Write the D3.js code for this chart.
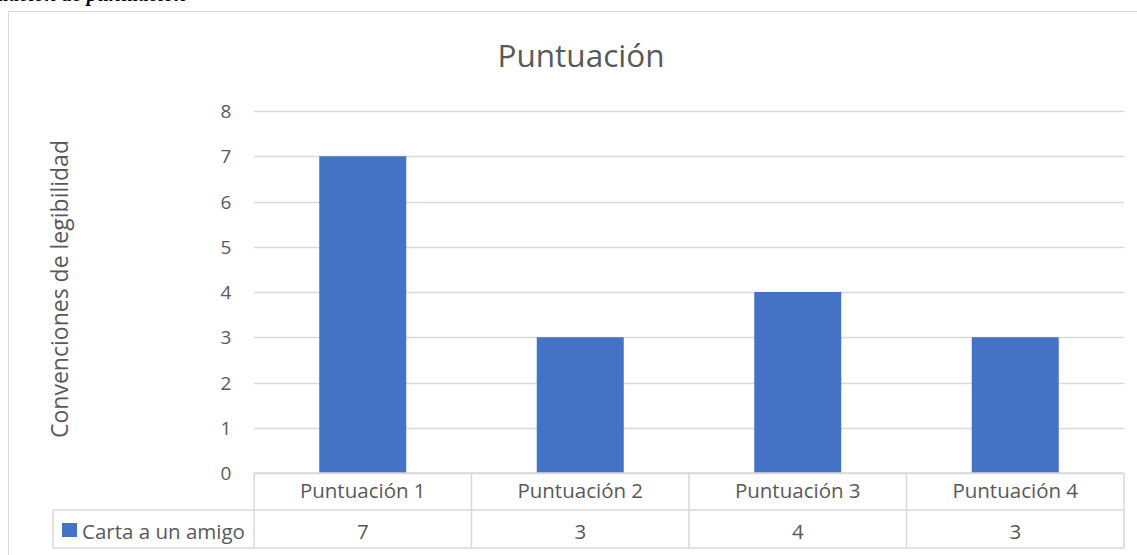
<!DOCTYPE html>
<html><head><meta charset="utf-8">
<script src="https://cdn.jsdelivr.net/npm/d3@7"></script>
<style>body{margin:0;background:#fff}svg{display:block}</style>
</head><body>
<svg id="c" width="1137" height="555"></svg>
<script>
const categories = ["Puntuación 1","Puntuación 2","Puntuación 3","Puntuación 4"];
const seriesName = "Carta a un amigo";
const values = [7,3,4,3];
const yTicks = [0,1,2,3,4,5,6,7,8];
const title = "Puntuación";
const yTitle = "Convenciones de legibilidad";
const caption = "Evaluación de puntuación";

const svg = d3.select("#c");
const font = "'Open Sans', sans-serif";
const txt = "#595959", grid = "#d9d9d9", blue = "#4472C4";

// clipped caption above chart (cut off in the reference)
svg.append("text").attr("x",186).attr("y",1).attr("text-anchor","end")
  .attr("font-family","'Liberation Serif', serif").attr("font-style","italic").attr("font-weight","bold")
  .attr("font-size",21).attr("fill","#000").text(caption);

// chart border
svg.append("rect").attr("x",8.5).attr("y",11.5).attr("width",1140).attr("height",560)
  .attr("fill","none").attr("stroke",grid).attr("stroke-width",1);

const L=254, R=1124, T=111, B=473;
const x = d3.scaleBand().domain(categories).range([L,R]).paddingInner(0).paddingOuter(0);
const y = d3.scaleLinear().domain([0,8]).range([B,T]);

// gridlines
svg.append("g").selectAll("line").data(yTicks).join("line")
  .attr("x1",L).attr("x2",R).attr("y1",d=>Math.round(y(d))+0.5).attr("y2",d=>Math.round(y(d))+0.5)
  .attr("stroke",grid).attr("stroke-width",1.3);

// y tick labels
svg.append("g").selectAll("text").data(yTicks).join("text")
  .attr("x",226).attr("y",d=>y(d)+7).attr("text-anchor","middle")
  .attr("font-family",font).attr("font-size",19).attr("fill",txt).text(d=>d);

// bars
const bw = x.bandwidth()*0.4;
svg.append("g").selectAll("rect").data(values).join("rect")
  .attr("x",(d,i)=>x(categories[i])+x.bandwidth()/2-bw/2).attr("width",bw)
  .attr("y",d=>y(d)).attr("height",d=>y(0)-y(d)).attr("fill",blue);

// title
svg.append("text").attr("x",581).attr("y",67).attr("text-anchor","middle")
  .attr("font-family",font).attr("font-size",31.5).attr("fill",txt).text(title);

// y axis title
svg.append("text").attr("transform","translate(68,289) rotate(-90)").attr("text-anchor","middle")
  .attr("font-family",font).attr("font-size",23).attr("fill",txt).text(yTitle);

// data table
const r0=473, r1=510, r2=548, LL=53;
const tg = svg.append("g").attr("stroke",grid).attr("stroke-width",1.5).attr("fill","none");
tg.append("line").attr("x1",L).attr("x2",R).attr("y1",r0).attr("y2",r0);
tg.append("line").attr("x1",LL).attr("x2",R).attr("y1",r1).attr("y2",r1);
tg.append("line").attr("x1",LL).attr("x2",R).attr("y1",r2).attr("y2",r2);
tg.append("line").attr("x1",LL).attr("x2",LL).attr("y1",r1).attr("y2",r2);
const edges = categories.map(c=>x(c)).concat([R]);
tg.selectAll(".v").data(edges).join("line").attr("class","v")
  .attr("x1",d=>d).attr("x2",d=>d).attr("y1",r0).attr("y2",r2);

const tfs = 20.5;
svg.append("g").selectAll("text").data(categories).join("text")
  .attr("x",d=>x(d)+x.bandwidth()/2).attr("y",498).attr("text-anchor","middle")
  .attr("font-family",font).attr("font-size",tfs).attr("fill",txt).text(d=>d);
svg.append("g").selectAll("text").data(values).join("text")
  .attr("x",(d,i)=>x(categories[i])+x.bandwidth()/2).attr("y",539).attr("text-anchor","middle")
  .attr("font-family",font).attr("font-size",tfs).attr("fill",txt).text(d=>d);

svg.append("rect").attr("x",62).attr("y",523).attr("width",15).attr("height",14).attr("fill",blue);
svg.append("text").attr("x",82).attr("y",539)
  .attr("font-family",font).attr("font-size",tfs).attr("fill",txt).text(seriesName);
</script>
</body></html>
